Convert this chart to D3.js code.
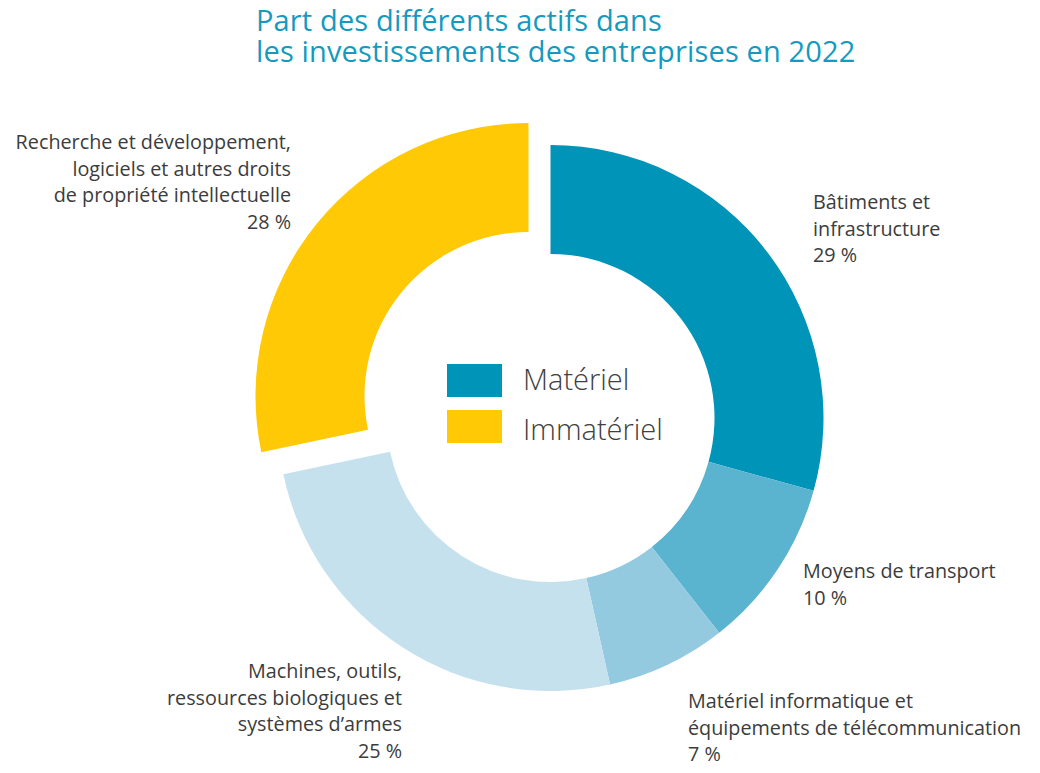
<!DOCTYPE html>
<html><head><meta charset="utf-8">
<script src="https://cdn.jsdelivr.net/npm/d3@7"></script>
<style>body{margin:0;background:#fff}svg{display:block}text{font-family:"Open Sans",sans-serif}</style>
</head><body>
<svg id="c" width="1040" height="773"></svg>
<script>
const categories = ["Bâtiments et infrastructure","Moyens de transport","Matériel informatique et équipements de télécommunication","Machines, outils, ressources biologiques et systèmes d’armes","Recherche et développement, logiciels et autres droits de propriété intellectuelle"];
const values = [29.3, 10.1, 7.1, 25.2, 28.3];
const percentLabels = ["29 %","10 %","7 %","25 %","28 %"];
const groups = ["Matériel","Matériel","Matériel","Matériel","Immatériel"];
const colors = ["#0094B8","#5AB3CF","#93CAE0","#C5E1EE","#FFC906"];
const legendItems = ["Matériel","Immatériel"];
const legendColors = ["#0094B8","#FFC906"];
const titleLines = ["Part des différents actifs dans","les investissements des entreprises en 2022"];
const labelLines = [
  ["Bâtiments et","infrastructure"],
  ["Moyens de transport"],
  ["Matériel informatique et","équipements de télécommunication"],
  ["Machines, outils,","ressources biologiques et","systèmes d’armes"],
  ["Recherche et développement,","logiciels et autres droits","de propriété intellectuelle"]
];

const svg = d3.select("#c");
const cx = 550.5, cy = 418, rOuter = 273, rInner = 164;
const pie = d3.pie().sort(null).value(d => d.v);
const arcs = pie(values.map((v,i)=>({v,i})));
const arc = d3.arc().innerRadius(rInner).outerRadius(rOuter);
const g = svg.append("g").attr("transform",`translate(${cx},${cy})`);
g.selectAll("path").data(arcs).join("path")
  .attr("d", arc)
  .attr("fill", d => colors[d.data.i])
  .attr("transform", d => groups[d.data.i] === "Immatériel" ? "translate(-22,-22)" : null);

// title
const title = svg.append("text").attr("fill","#149AC0").attr("font-size",29).attr("letter-spacing",0.15);
titleLines.forEach((d,i)=>{
  title.append("tspan").attr("x",256).attr("y",31+i*31).text(d);
});

// legend
const lg = svg.append("g");
legendItems.forEach((t,i)=>{
  lg.append("rect").attr("x",447).attr("y",364+i*46).attr("width",55).attr("height",33).attr("fill",legendColors[i]);
  lg.append("text").attr("x",523).attr("y",390+i*50).attr("font-size",29).attr("font-weight",300).attr("fill","#404040").text(t);
});

// labels
const labelPos = [
  {x:813,y:209,anchor:"start"},
  {x:803,y:578,anchor:"start"},
  {x:688,y:708,anchor:"start"},
  {x:402,y:678,anchor:"end"},
  {x:291,y:149,anchor:"end"}
];
const lh = 26.7;
labelLines.forEach((lines,i)=>{
  const p = labelPos[i];
  const t = svg.append("text").attr("text-anchor",p.anchor).attr("font-size",19.8).attr("fill","#3c3c3c");
  lines.concat([percentLabels[i]]).forEach((l,j)=>{
    t.append("tspan").attr("x",p.x).attr("y",p.y+j*lh).text(l);
  });
});
</script>
</body></html>
